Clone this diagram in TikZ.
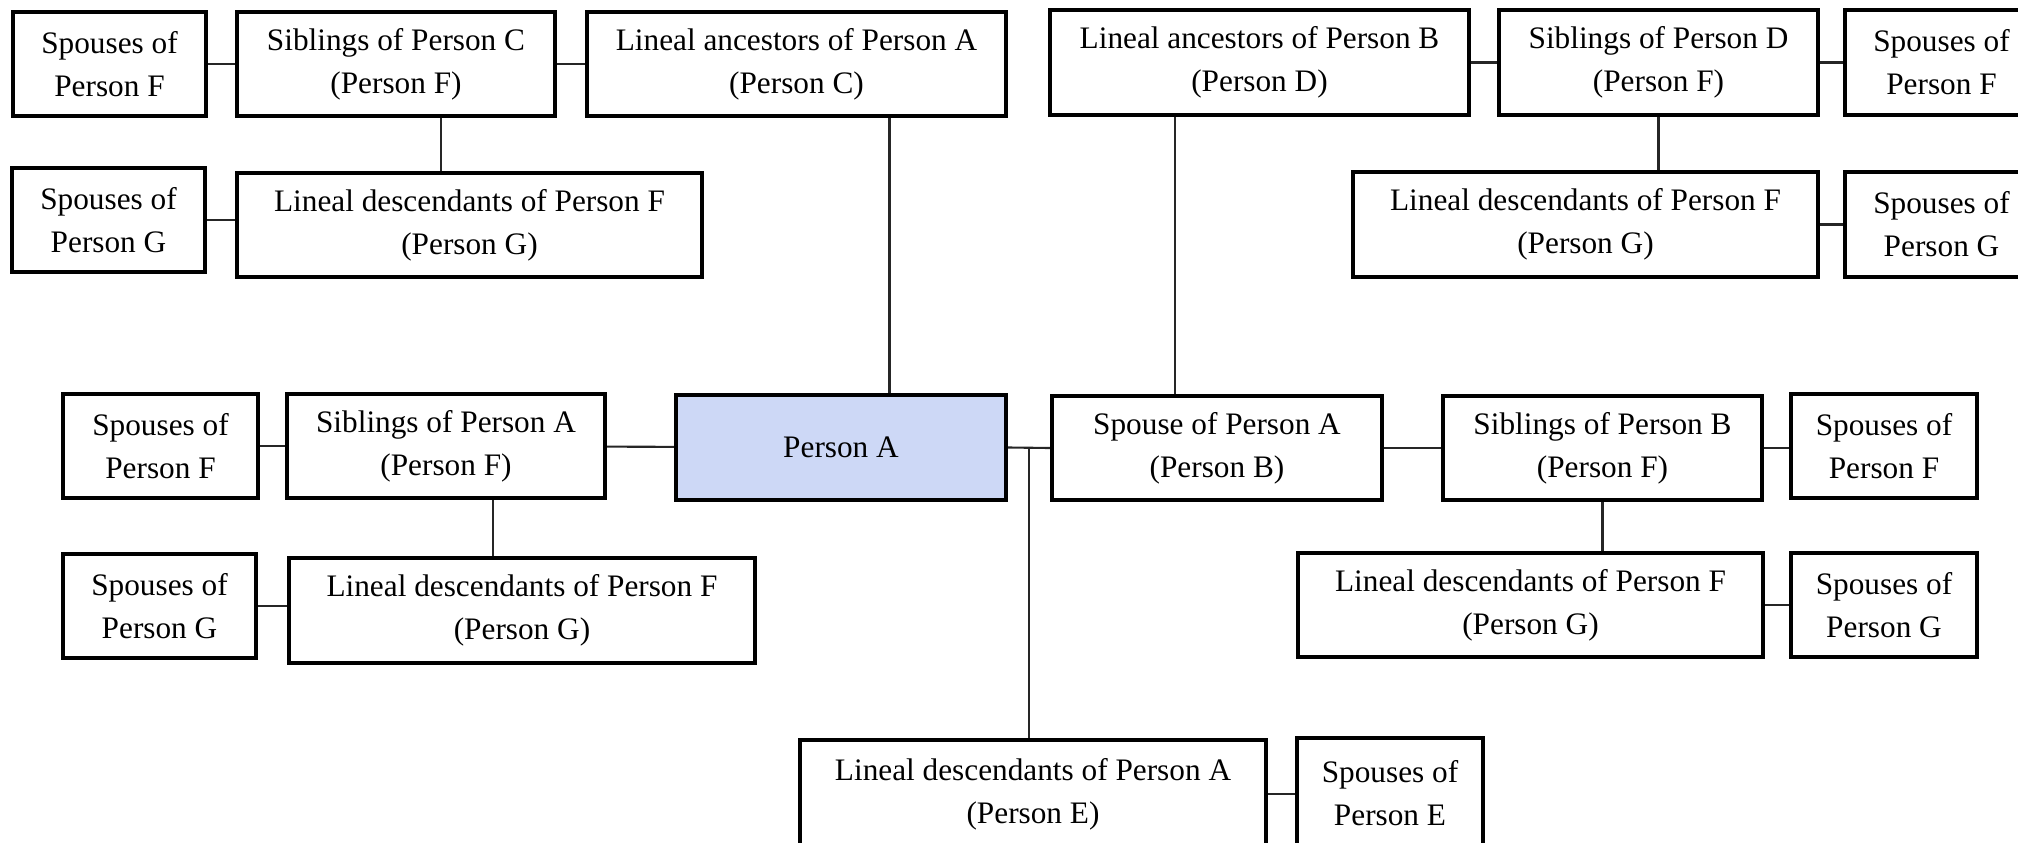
\documentclass[tikz,border=0pt]{standalone}
\usepackage{fontspec}
\setmainfont{Liberation Serif}
\usepackage{tikz}
\usetikzlibrary{positioning}
\tikzset{pbox/.style = {draw, rectangle, line width = 1.2pt, inner sep = 0, minimum height = 1.04cm,
    align = center, font = \fontsize{8.9pt}{12.3pt}\selectfont},
  conn/.style = {line width = 0.6pt, black!85}}
\definecolor{pblue}{RGB}{205, 216, 246}

\begin{document}
\begin{tikzpicture}
    \useasboundingbox (0, 0) rectangle (20.18, -8.43);

    % ancestors of A
    \node[pbox, minimum width=1.93cm] (spFc) at (1.095, -0.64) {Spouses of\\Person F};
    \node[pbox, minimum width=3.18cm] (sibC) at (3.96, -0.64) {Siblings of Person C\\(Person F)};
    \node[pbox, minimum width=4.19cm] (ancA) at (7.965, -0.64) {Lineal ancestors of Person A\\(Person C)};
    \node[pbox, minimum width=1.93cm] (spGc) at (1.085, -2.20) {Spouses of\\Person G};
    \node[pbox, minimum width=4.65cm] (descFc) at (4.695, -2.25) {Lineal descendants of Person F\\(Person G)};

    % ancestors of B
    \node[pbox, minimum width=4.19cm, minimum height=1.05cm] (ancB) at (12.595, -0.625) {Lineal ancestors of Person B\\(Person D)};
    \node[pbox, minimum width=3.19cm, minimum height=1.05cm] (sibD) at (16.585, -0.625) {Siblings of Person D\\(Person F)};
    \node[pbox, minimum width=1.93cm, minimum height=1.05cm] (spFd) at (19.415, -0.625) {Spouses of\\Person F};
    \node[pbox, minimum width=4.65cm, minimum height=1.05cm] (descFd) at (15.855, -2.245) {Lineal descendants of Person F\\(Person G)};
    \node[pbox, minimum width=1.93cm, minimum height=1.05cm] (spGd) at (19.415, -2.245) {Spouses of\\Person G};

    % middle row
    \node[pbox, minimum width=1.95cm] (spFa) at (1.605, -4.46) {Spouses of\\Person F};
    \node[pbox, minimum width=3.18cm] (sibA) at (4.46, -4.46) {Siblings of Person A\\(Person F)};
    \node[pbox, minimum width=3.30cm, minimum height=1.05cm, fill=pblue] (personA) at (8.41, -4.475) {Person A};
    \node[pbox, minimum width=3.30cm] (spouseA) at (12.17, -4.48) {Spouse of Person A\\(Person B)};
    \node[pbox, minimum width=3.19cm] (sibB) at (16.025, -4.48) {Siblings of Person B\\(Person F)};
    \node[pbox, minimum width=1.86cm] (spFb) at (18.84, -4.46) {Spouses of\\Person F};
    \node[pbox, minimum width=1.93cm] (spGa) at (1.595, -6.06) {Spouses of\\Person G};
    \node[pbox, minimum width=4.66cm, minimum height=1.05cm] (descFa) at (5.22, -6.105) {Lineal descendants of Person F\\(Person G)};
    \node[pbox, minimum width=4.65cm] (descFb) at (15.305, -6.05) {Lineal descendants of Person F\\(Person G)};
    \node[pbox, minimum width=1.86cm] (spGb) at (18.84, -6.05) {Spouses of\\Person G};

    % descendants of A
    \node[pbox, minimum width=4.66cm, minimum height=1.08cm] (descA) at (10.33, -7.94) {Lineal descendants of Person A\\(Person E)};
    \node[pbox, minimum width=1.86cm, minimum height=1.10cm] (spE) at (13.90, -7.93) {Spouses of\\Person E};

    % connectors
    \draw[conn] (spFc) -- (sibC);
    \draw[conn] (sibC) -- (ancA);
    \draw[conn] (spGc.east) -- (spGc.east -| descFc.west);
    \draw[conn] (sibC.south) ++(0.45, 0) coordinate (c1) -- (c1 |- descFc.north);
    \draw[conn] (ancA.south) ++(0.93, 0) coordinate (c2) -- (c2 |- personA.north);

    \draw[conn] (ancB) -- (sibD);
    \draw[conn] (sibD) -- (spFd);
    \draw[conn] (sibD.south) -- (sibD.south |- descFd.north);
    \draw[conn] (descFd) -- (spGd);
    \draw[conn] (ancB.south) ++(-0.845, 0) coordinate (c3) -- (c3 |- spouseA.north);

    \draw[conn] (spFa) -- (sibA);
    \draw[conn] (sibA) -- (personA);
    \draw[conn] (sibA.south) ++(0.47, 0) coordinate (c4) -- (c4 |- descFa.north);
    \draw[conn] (spGa.east) -- (spGa.east -| descFa.west);
    \draw[conn] (personA.east) -- coordinate[pos=0.5] (jn) (spouseA.west);
    \draw[conn] (jn) -- (jn |- descA.north);
    \draw[conn] (spouseA) -- (sibB);
    \draw[conn] (sibB.east) -- (sibB.east -| spFb.west);
    \draw[conn] (sibB.south) -- (sibB.south |- descFb.north);
    \draw[conn] (descFb) -- (spGb);
    \draw[conn] (descA.east) -- (descA.east -| spE.west);

  \end{tikzpicture}
\end{document}
